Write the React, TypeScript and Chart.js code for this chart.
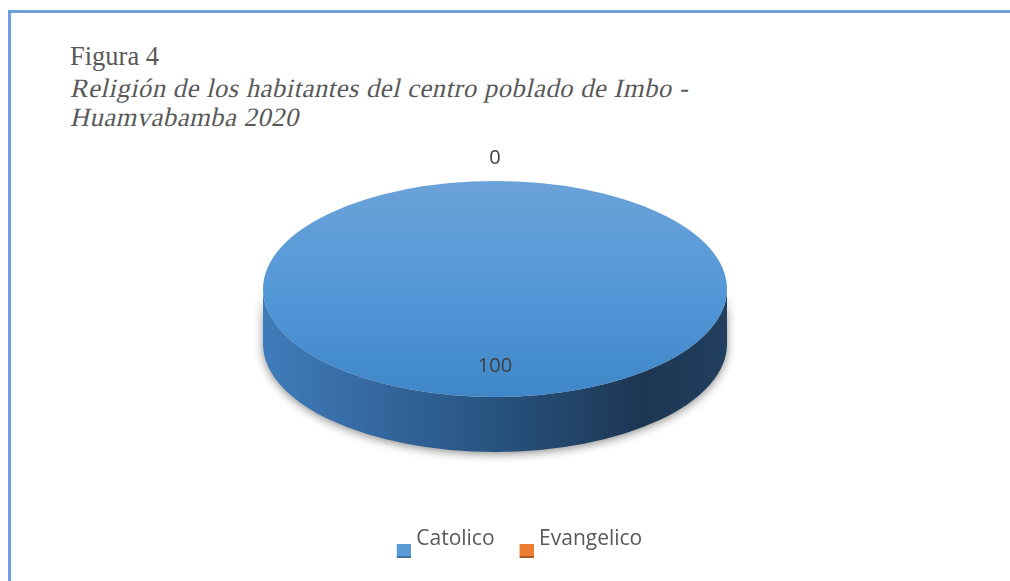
import React, { useEffect, useRef } from "react";
import { Chart, registerables } from "chart.js";

Chart.register(...registerables);

const CATEGORIES = ["Catolico", "Evangelico"];
const VALUES = [100, 0];
const SLICE_COLORS = ["#5b9bd5", "#ed7d31"];
const SLICE_EDGES = ["#41719c", "#ae5a21"];
const FIGURE_LABEL = "Figura 4";
const FIGURE_TITLE = ["Religión de los habitantes del centro poblado de Imbo -", "Huamvabamba 2020"];

const PIE_RADIUS = 232;
const TILT = 0.4655;
const DEPTH = 55;

function legendSwatch(fill: string, edge: string) {
  const c = document.createElement("canvas");
  c.width = 20;
  c.height = 38;
  const x = c.getContext("2d")!;
  x.fillStyle = fill;
  x.fillRect(6, 24, 14, 14);
  x.fillStyle = edge;
  x.fillRect(6, 36, 14, 2);
  return c;
}

const pie3d = {
  id: "pie3d",
  beforeDatasetsDraw(chart: any) {
    const ctx = chart.ctx;
    const meta = chart.getDatasetMeta(0);
    const el = meta.data[0];
    if (!el) return;
    const cx = el.x;
    const cy = el.y;
    const rx = el.outerRadius;
    const ry = rx * TILT;
    ctx.save();
    const g = ctx.createLinearGradient(cx - rx, 0, cx + rx, 0);
    g.addColorStop(0, "#3f7cbb");
    g.addColorStop(0.35, "#2f5f92");
    g.addColorStop(0.6, "#244a72");
    g.addColorStop(0.82, "#1d3652");
    g.addColorStop(1, "#22405f");
    ctx.beginPath();
    ctx.moveTo(cx + rx, cy);
    ctx.lineTo(cx + rx, cy + DEPTH);
    ctx.ellipse(cx, cy + DEPTH, rx, ry, 0, 0, Math.PI, false);
    ctx.lineTo(cx - rx, cy);
    ctx.ellipse(cx, cy, rx, ry, 0, Math.PI, 0, true);
    ctx.closePath();
    ctx.shadowColor = "rgba(0,0,0,0.45)";
    ctx.shadowBlur = 10;
    ctx.shadowOffsetY = 2;
    ctx.fillStyle = g;
    ctx.fill();
    ctx.restore();
    ctx.save();
    ctx.translate(cx, cy);
    ctx.scale(1, TILT);
    ctx.translate(-cx, -cy);
  },
  afterDatasetsDraw(chart: any) {
    const ctx = chart.ctx;
    ctx.restore();
    const meta = chart.getDatasetMeta(0);
    const values = chart.data.datasets[0].data;
    ctx.save();
    ctx.font = "20px 'Open Sans'";
    ctx.fillStyle = "#404040";
    ctx.textAlign = "center";
    ctx.textBaseline = "middle";
    meta.data.forEach((el: any, i: number) => {
      const mid = (el.startAngle + el.endAngle) / 2;
      const frac = values[i] > 0 ? 0.72 : 1.21;
      const x = el.x + Math.cos(mid) * el.outerRadius * frac;
      const y = el.y + Math.sin(mid) * el.outerRadius * frac * TILT;
      ctx.fillText(String(values[i]), x, y);
    });
    ctx.restore();
  },
};

export default function App() {
  const ref = useRef<HTMLCanvasElement | null>(null);

  useEffect(() => {
    if (!ref.current) return;
    const swatches = SLICE_COLORS.map((c, i) => legendSwatch(c, SLICE_EDGES[i]));
    const chart = new Chart(ref.current, {
      type: "pie",
      data: {
        labels: CATEGORIES,
        datasets: [
          {
            data: VALUES,
            radius: PIE_RADIUS,
            borderWidth: 0,
            clip: false,
            backgroundColor: (c: any) => {
              const ch = c.chart;
              const area = ch.chartArea;
              if (!area || c.dataIndex !== 0) return SLICE_COLORS[c.dataIndex];
              const cy = (area.top + area.bottom) / 2;
              const g = ch.ctx.createLinearGradient(0, cy - PIE_RADIUS, 0, cy + PIE_RADIUS);
              g.addColorStop(0, "#6ba2d8");
              g.addColorStop(0.5, "#5498d8");
              g.addColorStop(1, "#3f87c8");
              return g;
            },
          } as any,
        ],
      },
      options: {
        animation: false,
        responsive: false,
        devicePixelRatio: 1,
        events: [],
        layout: { padding: { left: 28, right: 0, top: 73.5, bottom: 21.5 } },
        plugins: {
          tooltip: { enabled: false },
          title: {
            display: true,
            position: "right",
            text: "",
            font: { size: 10 },
            padding: { top: 18, bottom: 18 },
          },
          legend: {
            position: "bottom",
            align: "center",
            labels: {
              usePointStyle: true,
              boxWidth: 10,
              boxHeight: 14,
              padding: 24,
              color: "#595959",
              font: { family: "'Open Sans'", size: 21 },
              generateLabels: (ch: any) =>
                ch.data.labels.map((text: string, i: number) => ({
                  text,
                  fillStyle: SLICE_COLORS[i],
                  strokeStyle: SLICE_COLORS[i],
                  pointStyle: swatches[i],
                  lineWidth: 0,
                  hidden: false,
                  index: i,
                  fontColor: "#595959",
                })),
            },
          },
        },
      },
      plugins: [pie3d],
    } as any);
    return () => chart.destroy();
  }, []);

  const serif = "'Liberation Serif', 'Times New Roman', serif";
  const lineTops = [40, 72, 101];
  const lines = [FIGURE_LABEL, ...FIGURE_TITLE];

  return (
    <div style={{ position: "fixed", left: 0, top: 0, width: 1010, height: 581, background: "#fff", overflow: "hidden" }}>
      <div
        style={{
          position: "absolute",
          left: 8,
          top: 10,
          width: 1100,
          height: 700,
          borderLeft: "3px solid #6e9fd8",
          borderTop: "3px solid #6e9fd8",
        }}
      />
      {lines.map((t, i) => (
        <div
          key={t}
          style={{
            position: "absolute",
            left: 70,
            top: lineTops[i],
            fontFamily: serif,
            fontSize: 26.5,
            lineHeight: "32px",
            color: "#595959",
            whiteSpace: "nowrap",
            letterSpacing: i > 0 ? "0.55px" : "0",
            transformOrigin: "0 75%",
            transform: i > 0 ? "skewX(-13deg)" : "none",
          }}
        >
          {t}
        </div>
      ))}
      <canvas ref={ref} width={1010} height={581} style={{ position: "absolute", left: 0, top: 0 }} />
    </div>
  );
}
